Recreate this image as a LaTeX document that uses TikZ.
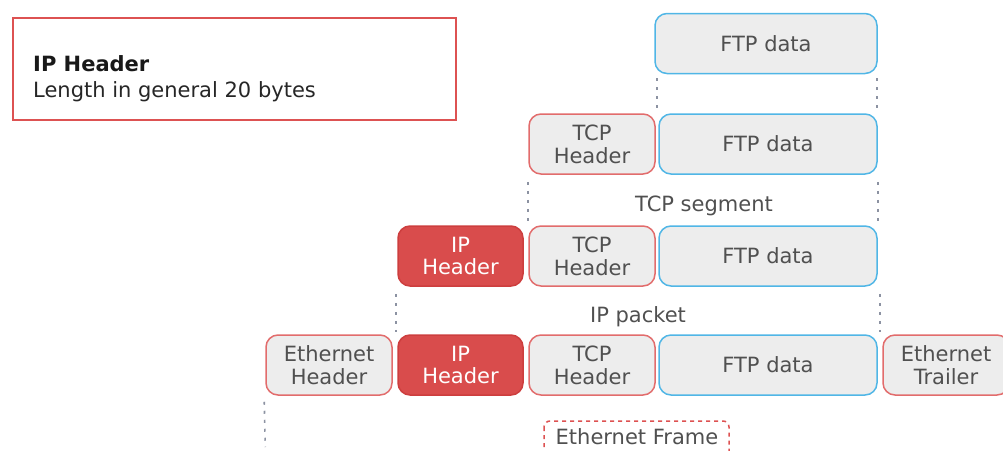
\documentclass[tikz,border=0pt]{standalone}
\usepackage{fontspec}
\setmainfont{DejaVu Sans}
\usetikzlibrary{calc}

\definecolor{boxgray}{RGB}{237,237,237}
\definecolor{textgray}{RGB}{80,80,80}
\definecolor{hdrred}{RGB}{226,108,108}
\definecolor{datablue}{RGB}{80,182,230}
\definecolor{ipred}{RGB}{217,76,76}
\definecolor{ipborder}{RGB}{205,62,62}
\definecolor{framered}{RGB}{221,82,82}
\definecolor{guidegray}{RGB}{140,146,162}

\newcommand{\boxfont}{\fontsize{21}{22.5}\selectfont}

\tikzset{
  pktbox/.style={draw, rounded corners=12pt, line width=1.5pt, fill=boxgray,
    text=textgray, minimum height=60pt, inner sep=0pt, align=center, font=\boxfont,
    text depth=-5pt},
  hdrbox/.style={pktbox, draw=hdrred},
  databox/.style={pktbox, draw=datablue},
  ipbox/.style={pktbox, fill=ipred, draw=ipborder, text=white},
  guide/.style={draw=guidegray, line width=1.6pt, dash pattern=on 3pt off 6pt},
  caption/.style={text=textgray, font=\boxfont, inner sep=0pt},
}

\begin{document}
\begin{tikzpicture}[x=1pt,y=-1pt]
  \useasboundingbox (0,0) rectangle (1003,450);
  \clip (0,0) rectangle (1003,450);

  % legend box
  \draw[framered, line width=2.5pt] (13,18) rectangle (456,120);
  \node[anchor=base west, inner sep=0pt, text=black!90, font=\fontsize{21}{22.5}\selectfont\bfseries]
    (legtitle) at (33,71) {IP Header};
  \node[anchor=base west, inner sep=0pt, text=black!85, font=\boxfont]
    (legtext) at (33,97) {Length in general 20 bytes};

  % application data
  \node[databox, minimum width=222pt] (ftpA) at (766,43.5) {FTP data};

  % TCP segment
  \node[hdrbox, minimum width=126pt] (tcpB) at (592,144) {TCP\\Header};
  \node[databox, minimum width=218pt] (ftpB) at (768,144) {FTP data};

  % IP packet
  \node[ipbox, minimum width=125pt] (ipC) at (460.5,256) {IP\\Header};
  \node[hdrbox, minimum width=126pt] (tcpC) at (592,256) {TCP\\Header};
  \node[databox, minimum width=218pt] (ftpC) at (768,256) {FTP data};

  % Ethernet frame
  \node[hdrbox, minimum width=126pt] (ethH) at (329,365) {Ethernet\\Header};
  \node[ipbox, minimum width=125pt] (ipD) at (460.5,365) {IP\\Header};
  \node[hdrbox, minimum width=126pt] (tcpD) at (592,365) {TCP\\Header};
  \node[databox, minimum width=218pt] (ftpD) at (768,365) {FTP data};
  \node[hdrbox, minimum width=126pt] (ethT) at (946,365) {Ethernet\\Trailer};

  % captions
  \node[caption] (segcap) at (704,206) {TCP segment};
  \node[caption] (pktcap) at (638,317) {IP packet};
  \draw[framered, line width=1.5pt, dash pattern=on 4pt off 4pt, rounded corners=6pt]
    (544,421) rectangle (729,462);
  \node[caption] (framecap) at (637,437) {Ethernet Frame};
  \coordinate (frameend) at (265,447);

  % extent guides
  \draw[guide] ($(ftpA.south west)+(3,4)$) -- ($(ftpA.south west |- ftpB.north)+(3,-2)$);
  \draw[guide] ($(ftpA.south east)+(-1,4)$) -- ($(ftpA.south east |- ftpB.north)+(-1,-2)$);
  \draw[guide] ($(tcpB.south west)+(0,7)$) -- ($(tcpB.south west |- tcpC.north)+(0,-4)$);
  \draw[guide] ($(ftpB.south east)+(0,7)$) -- ($(ftpB.south east |- ftpC.north)+(0,-4)$);
  \draw[guide] ($(ipC.south west)+(-1,7)$) -- ($(ipC.south west |- ipD.north)+(-1,-2)$);
  \draw[guide] ($(ftpC.south east)+(2,7)$) -- ($(ftpC.south east |- ftpD.north)+(2,-2)$);
  \draw[guide] ($(ethH.south west)+(-1,6)$) -- (ethH.south west |- frameend);
\end{tikzpicture}
\end{document}
